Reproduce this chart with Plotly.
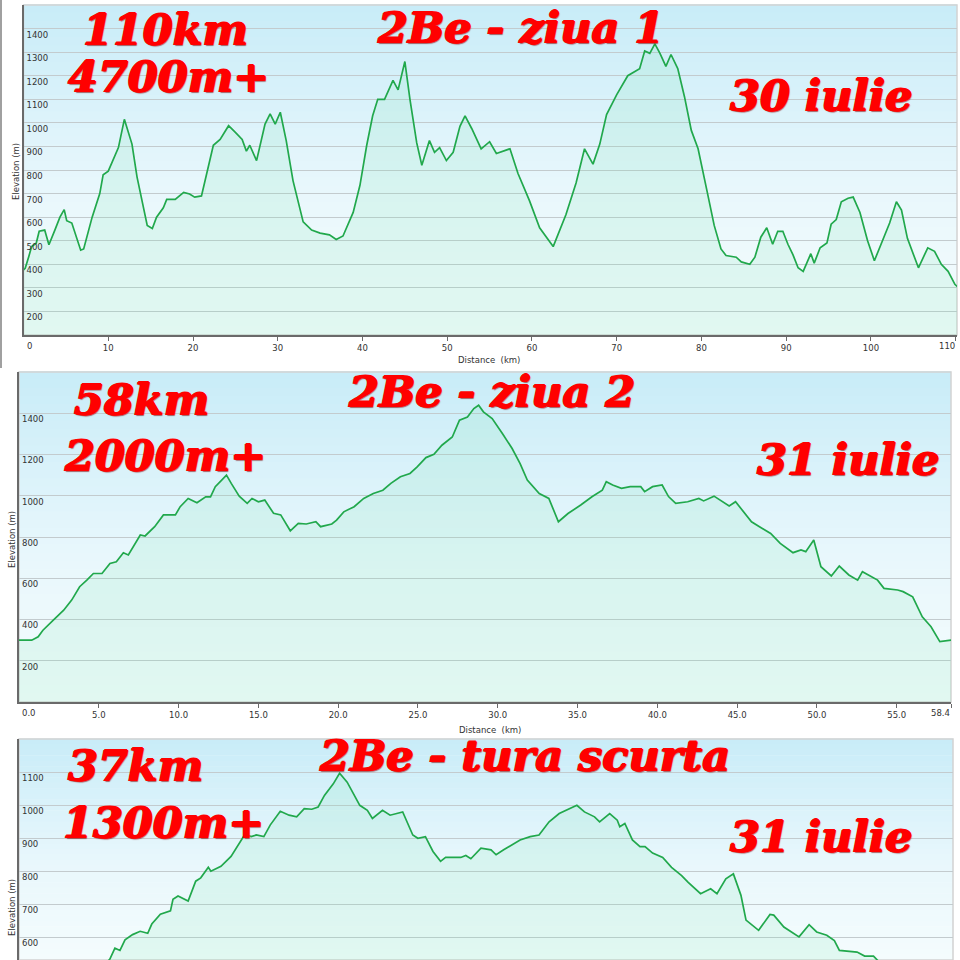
import plotly.graph_objects as go

# ---------------- data ----------------
d1_km = [0, 0.2, 0.6, 0.96, 1.5, 1.85, 2.5, 3.0, 3.7, 4.3, 4.8, 5.1, 5.7, 6.2, 6.75, 7.1, 8.1, 9.0, 9.4, 10.0,
         11.2, 11.9, 12.2, 12.8, 13.4, 14.0, 14.6, 15.2, 15.7, 16.5, 16.9, 17.9, 18.9, 19.6, 20.2, 21.0, 21.8,
         22.4, 23.2, 24.2, 25.0, 25.8, 26.3, 26.7, 27.5, 28.5, 29.1, 29.7, 30.3, 31.0, 31.8, 33.0, 34.0, 35.0,
         36.1, 36.9, 37.7, 38.9, 39.7, 40.5, 41.2, 41.8, 42.6, 43.6, 44.2, 45.0, 45.6, 46.4, 47.0, 47.9, 48.5,
         49.1, 49.9, 50.7, 51.5, 52.1, 52.9, 54.0, 55.0, 55.8, 57.4, 58.35, 59.7, 60.9, 62.5, 64.0, 65.2, 66.2,
         67.2, 68.0, 68.8, 70.0, 71.3, 72.7, 73.3, 73.9, 74.5, 75.1, 75.8, 76.4, 77.2, 78.0, 78.8, 79.6, 80.6,
         81.5, 82.3, 82.9, 84.1, 84.7, 85.7, 86.3, 87.0, 87.7, 88.4, 89.0, 89.6, 90.2, 90.8, 91.4, 92.0, 92.9,
         93.3, 94.0, 94.8, 95.3, 95.9, 96.5, 97.3, 97.9, 98.7, 99.6, 100.4, 101.4, 102.2, 103.0, 103.6, 104.3,
         104.9, 105.6, 106.7, 107.5, 108.3, 109.1, 109.9, 110.2]
d1_elev = [376, 383, 430, 475, 489, 540, 545, 483, 545, 600, 632, 585, 575, 520, 460, 465, 600, 700, 780, 795,
           895, 1015, 980, 910, 770, 670, 565, 552, 600, 640, 675, 675, 705, 698, 685, 690, 810,
           905, 930, 988, 960, 930, 880, 905, 840, 995, 1038, 995, 1045, 925, 755, 580, 545, 532,
           525, 505, 520, 620, 735, 905, 1030, 1100, 1100, 1180, 1140, 1260, 1100, 915, 820, 925, 875,
           895, 840, 875, 985, 1030, 975, 890, 920, 870, 890, 785, 670, 555, 475, 610, 745, 890,
           825, 910, 1035, 1120, 1200, 1230, 1305, 1295, 1335, 1295, 1240, 1290, 1230, 1110, 968, 890, 720,
           565, 465, 437, 430, 410, 400, 430, 515, 555, 485, 540, 540, 485, 440, 385, 370, 445,
           405, 470, 490, 570, 590, 665, 680, 685, 620, 500, 415, 505, 575, 665, 630, 510,
           455, 385, 470, 455, 400, 370, 315, 305]

d2_km = [0, 0.8, 1.2, 1.5, 2.15, 2.8, 3.3, 3.8, 4.25, 4.66, 5.2, 5.7, 6.1, 6.54, 6.85, 7.28, 7.6, 7.9, 8.5,
         9.05, 9.8, 10.1, 10.6, 11.15, 11.7, 12.0, 12.3, 12.7, 13.0, 13.3, 13.8, 14.3, 14.6, 15.0, 15.4,
         15.95, 16.4, 17.0, 17.5, 18.0, 18.6, 18.9, 19.6, 19.9, 20.35, 21.0, 21.6, 22.2, 22.8, 23.3, 23.9,
         24.5, 24.95, 25.5, 26.0, 26.5, 27.15, 27.6, 28.1, 28.5, 28.8, 29.1, 29.65, 30.3, 30.9, 31.4, 31.85,
         32.6, 33.2, 33.8, 34.4, 35.2, 35.9, 36.55, 36.8, 37.2, 37.75, 38.3, 38.96, 39.2, 39.7, 40.3, 40.7,
         41.15, 41.9, 42.6, 42.9, 43.55, 44.1, 44.5, 44.9, 45.3, 45.9, 46.4, 47.1, 47.7, 48.5, 49.0, 49.3,
         49.8, 50.25, 50.9, 51.4, 52.0, 52.55, 52.85, 53.8, 54.2, 55.06, 55.4, 56.0, 56.6, 57.15, 57.7, 58.4]
d2_elev = [300, 300, 316, 348, 397, 445, 494, 559, 591, 623, 623, 672, 680, 724, 713, 769, 810, 805, 850,
           907, 907, 947, 987, 966, 995, 995, 1044, 1076, 1100, 1060, 998, 963, 987, 971, 979,
           915, 907, 830, 866, 863, 874, 850, 863, 882, 922, 947, 987, 1011, 1027, 1060, 1092,
           1108, 1140, 1185, 1201, 1245, 1285, 1366, 1382, 1423, 1439, 1407, 1374, 1301, 1229, 1156, 1076,
           1011, 987, 874, 914, 955, 995, 1027, 1068, 1052, 1036, 1044, 1044, 1020, 1044, 1052, 996,
           963, 971, 987, 975, 998, 971, 950, 971, 930, 874, 850, 817, 769, 724, 737, 729,
           785, 656, 611, 659, 616, 591, 632, 591, 551, 543, 535, 510, 413, 365, 293, 300]

d3_km = [0, 1.0, 2.0, 3.0, 3.6, 3.8, 4.0, 4.2, 4.5, 4.8, 5.1, 5.26, 5.6, 6.0, 6.1, 6.3, 6.7, 7.0, 7.2, 7.5,
         7.6, 8.0, 8.4, 8.6, 8.95, 9.2, 9.4, 9.7, 9.95, 10.35, 10.7, 11.0, 11.3, 11.6, 11.85, 12.1, 12.45,
         12.7, 13.0, 13.5, 13.8, 14.0, 14.4, 14.7, 15.2, 15.6, 15.8, 16.1, 16.4, 16.7, 16.9, 17.5, 17.7,
         17.9, 18.3, 18.7, 18.9, 19.2, 19.85, 20.25, 20.6, 21.0, 21.4, 22.1, 22.4, 22.8, 23.0, 23.4, 23.7,
         23.8, 24.0, 24.3, 24.6, 24.8, 25.1, 25.5, 25.85, 26.25, 26.5, 27.0, 27.4, 27.65, 28.0, 28.3, 28.6,
         28.8, 29.3, 29.75, 29.9, 30.3, 30.6, 30.9, 31.3, 31.6, 32.0, 32.3, 32.5, 32.8, 33.2, 33.5, 33.85,
         34.2, 35.0, 36.0, 37.0]
d3_elev = [300, 330, 400, 480, 534, 567, 560, 592, 608, 618, 612, 640, 670, 680, 715, 725, 710, 770, 780, 812,
           800, 815, 845, 870, 912, 905, 910, 905, 940, 982, 970, 965, 990, 988, 995, 1030, 1065,
           1097, 1070, 1000, 985, 960, 985, 970, 980, 910, 900, 905, 860, 830, 842, 842, 848,
           838, 870, 865, 850, 865, 895, 905, 910, 950, 975, 1000, 980, 965, 950, 975, 955,
           935, 945, 895, 875, 875, 855, 842, 812, 787, 767, 732, 747, 732, 777, 792, 727,
           652, 621, 669, 667, 631, 616, 601, 638, 616, 606, 590, 560, 558, 555, 543, 543,
           515, 440, 340, 300]

p1_xticks = [0, 10, 20, 30, 40, 50, 60, 70, 80, 90, 100, 110]
p1_xtext = ["0", "10", "20", "30", "40", "50", "60", "70", "80", "90", "100", "110"]
p1_yticks = [200, 300, 400, 500, 600, 700, 800, 900, 1000, 1100, 1200, 1300, 1400]
p2_xticks = [0, 5, 10, 15, 20, 25, 30, 35, 40, 45, 50, 55, 58.4]
p2_xtext = ["0.0", "5.0", "10.0", "15.0", "20.0", "25.0", "30.0", "35.0", "40.0", "45.0", "50.0", "55.0", "58.4"]
p2_yticks = [200, 400, 600, 800, 1000, 1200, 1400]
p3_yticks = [600, 700, 800, 900, 1000, 1100]

titles1 = ["110km", "4700m+", "2Be - ziua 1", "30 iulie"]
titles2 = ["58km", "2000m+", "2Be - ziua 2", "31 iulie"]
titles3 = ["37km", "1300m+", "2Be - tura scurta", "31 iulie"]

# ---------------- layout helpers ----------------
W = H = 960
def px_x(v):
    return v / W
def px_y(v):
    return 1 - v / H

panels = [
    dict(n="", km=d1_km, elev=d1_elev, xdom=[px_x(23.5), px_x(957)], ydom=[px_y(335), px_y(5)],
         xr=[0, 110.15], yr=[100, 1500], xt=p1_xticks, xtt=p1_xtext, yt=p1_yticks, showx=True, lab_y=346),
    dict(n="2", km=d2_km, elev=d2_elev, xdom=[px_x(19), px_x(951)], ydom=[px_y(702), px_y(372)],
         xr=[0, 58.4], yr=[0, 1600], xt=p2_xticks, xtt=p2_xtext, yt=p2_yticks, showx=True, lab_y=713),
    dict(n="3", km=d3_km, elev=d3_elev, xdom=[px_x(19), px_x(953)], ydom=[0, px_y(739)],
         xr=[0, 37], yr=[531, 1201], xt=[], xtt=[], yt=p3_yticks, showx=False, lab_y=None),
]

GRID = "#c3cbce"
AXIS = "#6a6a6a"
TXT = "#333333"
TICKFONT = dict(family="DejaVu Sans", size=8.5, color=TXT)

def lerp(c1, c2, t):
    return "rgb(%d,%d,%d)" % tuple(round(a + (b - a) * t) for a, b in zip(c1, c2))

TOP = (201, 236, 248)
MID = (232, 247, 252)
BOT = (244, 252, 253)

fig = go.Figure()
shapes = []
ann = []
NSTRIP = 40
for p in panels:
    n = p["n"]
    xa, ya = "x" + n, "y" + n
    # gradient background strips (below grid)
    for i in range(NSTRIP):
        t = i / (NSTRIP - 1)  # 0 top -> 1 bottom
        c = lerp(TOP, MID, t / 0.55) if t < 0.55 else lerp(MID, BOT, (t - 0.55) / 0.45)
        y1 = 1 - i / NSTRIP
        y0 = 1 - (i + 1) / NSTRIP
        shapes.append(dict(type="rect", xref=xa + " domain", yref=ya + " domain", x0=0, x1=1, y0=y0, y1=y1 + 0.002,
                           fillcolor=c, line=dict(width=0), layer="below"))
    # light frame
    shapes.append(dict(type="rect", xref=xa + " domain", yref=ya + " domain", x0=0, x1=1, y0=0, y1=1,
                       fillcolor="rgba(0,0,0,0)", line=dict(color="#d2d2d2", width=1.5), layer="below"))

    fig.add_trace(go.Scatter(x=p["km"], y=p["elev"], xaxis=xa, yaxis=ya, mode="lines",
                             line=dict(color="#21a84c", width=1.7),
                             fill="tozeroy", fillcolor="rgba(110,228,170,0.14)",
                             hoverinfo="skip", showlegend=False))

    # inner tick labels drawn by the axis; the two end labels are drawn as annotations
    # (left one left-aligned, right one right-aligned, as in the original)
    inner_text = [""] + p["xtt"][1:-1] + [""] if p["xtt"] else []
    if p["showx"]:
        ann.append(dict(text=p["xtt"][0], xref=xa, yref="paper", x=p["xt"][0], y=px_y(p["lab_y"]),
                        xanchor="left", yanchor="middle", showarrow=False, font=TICKFONT, xshift=1))
        ann.append(dict(text=p["xtt"][-1], xref=xa, yref="paper", x=p["xt"][-1], y=px_y(p["lab_y"]),
                        xanchor="right", yanchor="middle", showarrow=False, font=TICKFONT, xshift=1))

    xkey = "xaxis" + n
    ykey = "yaxis" + n
    fig.layout[xkey] = dict(domain=p["xdom"], range=p["xr"], anchor=ya, showgrid=False, zeroline=False,
                            showline=p["showx"], linecolor=AXIS, linewidth=1.5, automargin=False,
                            ticks="outside" if p["showx"] else "", ticklen=4, tickcolor=AXIS,
                            tickvals=p["xt"], ticktext=inner_text, tickfont=TICKFONT,
                            showticklabels=p["showx"], fixedrange=True)
    fig.layout[ykey] = dict(domain=p["ydom"], range=p["yr"], anchor=xa, showgrid=True, gridcolor=GRID,
                            gridwidth=1, zeroline=False, showline=True, linecolor=AXIS, linewidth=1.5,
                            automargin=False,
                            tickvals=p["yt"], ticks="", ticklabelposition="inside", ticklabelshift=6,
                            ticklabelstandoff=2, tickfont=TICKFONT, fixedrange=True)

# outer gray left border of the first picture
shapes.append(dict(type="line", xref="paper", yref="paper", x0=px_x(1), x1=px_x(1), y0=px_y(368), y1=1,
                   line=dict(color="#a0a0a0", width=2)))

AXT = dict(family="DejaVu Sans", size=8.5, color=TXT)
for (x, y) in [(16, 172), (12, 540), (12, 908)]:
    ann.append(dict(text="Elevation (m)", xref="paper", yref="paper", x=px_x(x), y=px_y(y), textangle=-90,
                    showarrow=False, font=AXT, xanchor="center", yanchor="middle"))
for (x, y) in [(489, 360), (490, 730)]:
    ann.append(dict(text="Distance  (km)", xref="paper", yref="paper", x=px_x(x), y=px_y(y),
                    showarrow=False, font=AXT, xanchor="center", yanchor="middle"))

RED = dict(family="DejaVu Serif", size=43, color="#ff0000", weight="bold", style="italic",
           shadow="1px 0px 0px #ff0000, -1px 0px 0px #ff0000, 0px -1px 0px #ff0000, 1px 1px 1px rgba(130,0,0,0.6)")
pos1 = [(165, 30), (168, 77), (520, 28), (821, 96)]
pos2 = [(141, 400), (165, 456), (492, 392), (848, 460)]
pos3 = [(135, 766), (163, 823), (524, 756), (821, 837)]
for texts, poss in [(titles1, pos1), (titles2, pos2), (titles3, pos3)]:
    for t, (x, y) in zip(texts, poss):
        ann.append(dict(text=t, xref="paper", yref="paper", x=px_x(x), y=px_y(y), showarrow=False,
                        font=RED, xanchor="center", yanchor="middle"))

fig.update_layout(width=W, height=H, margin=dict(l=0, r=0, t=0, b=0, pad=0), autosize=False,
                  paper_bgcolor="white", plot_bgcolor="white", shapes=shapes, annotations=ann,
                  showlegend=False)

fig.write_html("out.html", config={"displayModeBar": False},
               post_script="document.body.style.margin='0px';")
